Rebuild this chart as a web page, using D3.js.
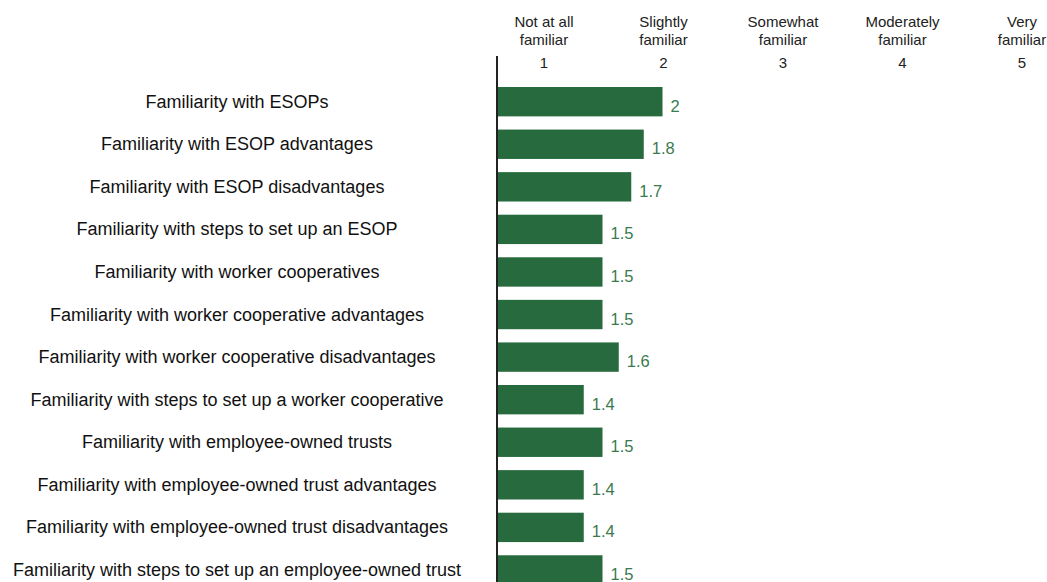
<!DOCTYPE html>
<html>
<head>
<meta charset="utf-8">
<script src="https://cdn.jsdelivr.net/npm/d3@7"></script>
<style>
  body { margin: 0; background: #fff; }
  svg { display: block; font-family: "Liberation Sans", Arial, sans-serif; }
  .rowlabel { fill: #111; font-size: 18px; }
  .head { fill: #222; font-size: 15px; }
  .val { fill: #3a7a4f; font-size: 16.5px; }
</style>
</head>
<body>
<script>
// rows, top to bottom
let items = [
  "Familiarity with ESOPs",
  "Familiarity with ESOP advantages",
  "Familiarity with ESOP disadvantages",
  "Familiarity with steps to set up an ESOP",
  "Familiarity with worker cooperatives",
  "Familiarity with worker cooperative advantages",
  "Familiarity with worker cooperative disadvantages",
  "Familiarity with steps to set up a worker cooperative",
  "Familiarity with employee-owned trusts",
  "Familiarity with employee-owned trust advantages",
  "Familiarity with employee-owned trust disadvantages",
  "Familiarity with steps to set up an employee-owned trust"
];

// mean familiarity score (labels shown rounded to one decimal)
let scores = [1.99, 1.84, 1.74, 1.51, 1.51, 1.51, 1.64, 1.36, 1.51, 1.36, 1.36, 1.51];

// scale header
let scaleSteps = [1, 2, 3, 4, 5];
let scaleNames = [
  ["Not at all", "familiar"],
  ["Slightly", "familiar"],
  ["Somewhat", "familiar"],
  ["Moderately", "familiar"],
  ["Very", "familiar"]
];

let svgWidth = 1047;
let svgHeight = 582;

let svg = d3.select("body")
  .append("svg")
  .attr("width", svgWidth)
  .attr("height", svgHeight);

let data = items.map((d, i) => ({ name: d, score: scores[i] }));

// bar length scale (bars start at the axis line)
let xScale = d3.scaleLinear()
  .domain([0.666, 2])
  .range([497, 497 + 1.334 * 125]);

// header columns
let headScale = d3.scaleLinear()
  .domain([1, 5])
  .range([544, 1022]);

let yScale = d3.scaleBand()
  .domain(items)
  .range([80.4, 80.4 + 12 * 42.57])
  .paddingInner(0.31)
  .paddingOuter(0.155);

let fmt = d3.format(".1~f");

// header
let heads = svg.selectAll(".headcol")
  .data(scaleSteps)
  .enter()
  .append("g")
    .attr("class", "headcol")
    .attr("transform", d => "translate(" + headScale(d) + ",0)");

heads.append("text")
  .attr("class", "head")
  .attr("text-anchor", "middle")
  .attr("y", 27)
  .text((d, i) => scaleNames[i][0]);

heads.append("text")
  .attr("class", "head")
  .attr("text-anchor", "middle")
  .attr("y", 44.5)
  .text((d, i) => scaleNames[i][1]);

heads.append("text")
  .attr("class", "head")
  .attr("text-anchor", "middle")
  .attr("y", 68)
  .text(d => d);

// bars
svg.selectAll("rect.bar")
  .data(data)
  .enter()
  .append("rect")
    .attr("class", "bar")
    .attr("x", xScale(xScale.domain()[0]))
    .attr("y", d => yScale(d.name))
    .attr("width", d => xScale(d.score) - xScale(xScale.domain()[0]))
    .attr("height", yScale.bandwidth())
    .attr("fill", "#266a3e");

// value labels
svg.selectAll("text.val")
  .data(data)
  .enter()
  .append("text")
    .attr("class", "val")
    .attr("x", d => xScale(d.score) + 8)
    .attr("y", d => yScale(d.name) + yScale.bandwidth() / 2 + 10)
    .text(d => fmt(d.score));

// row labels
svg.selectAll("text.rowlabel")
  .data(data)
  .enter()
  .append("text")
    .attr("class", "rowlabel")
    .attr("text-anchor", "middle")
    .attr("x", 237)
    .attr("y", d => yScale(d.name) + yScale.bandwidth() / 2 + 6)
    .text(d => d.name);

// axis line
svg.append("line")
  .attr("x1", 497).attr("x2", 497)
  .attr("y1", 56).attr("y2", svgHeight)
  .attr("stroke", "#222")
  .attr("stroke-width", 2);
</script>
</body>
</html>
